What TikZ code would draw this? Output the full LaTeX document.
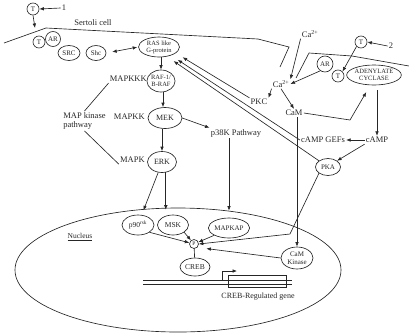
\documentclass[tikz,border=0pt]{standalone}
\usepackage{fontspec}
\setmainfont{Liberation Serif}
\usetikzlibrary{shapes.geometric,arrows.meta}
\begin{document}
\begin{tikzpicture}[x=1pt,y=-1pt,
  line width=0.65pt, draw=black!85, text=black!85,
  circ/.style={circle,draw,fill=white,inner sep=0pt,minimum size=12pt,font=\fontsize{7}{7}\selectfont},
  oval/.style={ellipse,draw,fill=white,inner sep=0pt,align=center,font=\fontsize{7.5}{7.5}\selectfont},
  lbl/.style={inner sep=1pt,font=\fontsize{8.5}{9.5}\selectfont,align=left},
  arr/.style={-{Latex[length=4.5pt,width=3.6pt]}},
  darr/.style={{Latex[length=4.5pt,width=3.6pt]}-{Latex[length=4.5pt,width=3.6pt]}},
]
\useasboundingbox (0,0) rectangle (409,333);

% nucleus
\node[ellipse,draw,inner sep=0pt,minimum width=326pt,minimum height=124pt] (nucleus) at (178,270) {};
\node[lbl,font=\fontsize{7.5}{8}\selectfont] (nuclbl) at (80,237) {\underline{Nucleus}};

% membrane
\draw (4,43) -- (46,28) -- (258,39) -- (289,47) -- (280,67);
\draw (296,78) -- (309,53) -- (352,56) -- (409,66);
\node[lbl] (sertoli) at (93,23) {Sertoli cell};

% testosterone 1
\node[circ] (T1) at (33,9) {T};
\node[lbl] (n1) at (64,8) {1};
\draw[arr] (n1.west) -- (T1.east);
\coordinate (mT) at (35,28);
\draw[arr] (T1.south) -- (mT);

% left receptor complex
\node[circ] (T2) at (39,42) {T};
\node[circ,minimum size=15pt] (AR1) at (53,39) {AR};
\node[oval,minimum width=22pt,minimum height=15pt,font=\fontsize{7}{7}\selectfont] (SRC) at (69,53) {SRC};
\node[oval,minimum width=20pt,minimum height=15pt,font=\fontsize{7}{7}\selectfont] (Shc) at (96,53) {Shc};
\node[oval,minimum width=41pt,minimum height=20pt,font=\fontsize{6.5}{7}\selectfont] (RAS) at (159,47) {RAS like\\G-protein};
\draw[darr,shorten <=6pt,shorten >=1pt] (Shc.east) -- (RAS.west);

% MAP kinase cascade
\node[oval,minimum width=25pt,minimum height=22pt,font=\fontsize{6.5}{7}\selectfont] (RAF) at (161,81) {RAF-1/\\B-RAF};
\node[oval,minimum width=34pt,minimum height=21pt,font=\fontsize{8}{8}\selectfont] (MEK) at (165,118) {MEK};
\node[oval,minimum width=29pt,minimum height=21pt,font=\fontsize{8}{8}\selectfont] (ERK) at (162,162) {ERK};
\node[lbl,anchor=east] (mapkkk) at (148,79) {MAPKKK};
\node[lbl,anchor=east] (mapkk) at (146,117) {MAPKK};
\node[lbl,anchor=east] (mapk) at (146,160) {MAPK};
\node[lbl,anchor=west] (mkp) at (62,121) {MAP kinase\\pathway};
\draw (mapkkk.south west) -- (mkp.north);
\draw (mkp.south) -- (mapk.south west);
\draw[arr] (RAS.south -| RAF.north) -- (RAF.north);
\draw[arr] (RAF.south -| 163,0) -- (MEK.north -| 163,0);
\draw[arr] (MEK.south -| ERK.north) -- (ERK.north);
\node[lbl] (p38) at (236,133) {p38K Pathway};
\draw[arr] (MEK.east) -- (p38.north west);

% nuclear targets
\node[oval,minimum width=32pt,minimum height=20pt] (p90) at (138,225) {p90\textsuperscript{rsk}};
\node[oval,minimum width=31pt,minimum height=20pt] (MSK) at (173,225) {MSK};
\node[oval,minimum width=36pt,minimum height=20pt,font=\fontsize{7}{7}\selectfont] (MAPKAP) at (229,228) {MAPKAP};
\node[circ,minimum size=9pt,font=\fontsize{5.5}{5.5}\selectfont] (P) at (194,244) {P};
\node[oval,minimum width=30pt,minimum height=18pt] (CREB) at (195,267) {CREB};
\node[oval,minimum width=32pt,minimum height=22pt,font=\fontsize{7}{7.5}\selectfont] (CaMK) at (297,258) {CaM\\Kinase};
\draw[arr,shorten >=5pt] (ERK.250) -- (p90.70);
\draw[arr,shorten >=5pt] (ERK.290) -- (ERK.290 |- MSK.north);
\draw[arr,shorten >=7pt] (p38.south -| MAPKAP.north) -- (MAPKAP.north);
\draw (P) -- (CREB);
\draw[arr] (p90.south east) -- (P);
\draw[arr] (MSK.south east) -- (P);
\draw[arr] (MAPKAP.south west) -- (P);

% gene
\coordinate (dnaA) at (143,280);
\coordinate (dnaB) at (292,280);
\coordinate (dnaC) at (143,284);
\coordinate (dnaD) at (292,284);
\draw (dnaA) -- (dnaB);
\draw (dnaC) -- (dnaD);
\node[draw,inner sep=0pt,minimum width=58pt,minimum height=12pt] (gene) at (257,281.5) {};
\coordinate (tss) at (222,280);
\coordinate (tssE) at (237,271);
\draw[arr] (tss) |- (tssE);
\node[lbl,font=\fontsize{8}{9}\selectfont] (genelbl) at (258,297) {CREB-Regulated gene};

% right side: calcium and cAMP
\node[lbl] (caout) at (310,34) {Ca\textsuperscript{2+}};
\node[lbl] (cain) at (281,84) {Ca\textsuperscript{2+}};
\draw[arr] (caout.south west) -- (cain.north east);
\node[circ] (T3) at (361,42) {T};
\node[lbl] (n2) at (391,46) {2};
\draw[arr] (n2.west) -- (T3.east);
\node[circ,minimum size=16pt] (AR2) at (325,64) {AR};
\node[circ] (T4) at (338,76) {T};
\draw[arr] (T3.south west) -- (T4.north east);
\node[oval,minimum width=52pt,minimum height=20pt,font=\fontsize{6.5}{7}\selectfont] (AC) at (374,75) {ADENYLATE\\CYCLASE};
\draw[arr] (AR2.235) -- (cain.east);
\node[lbl] (PKC) at (259,102) {PKC};
\node[lbl] (CaM) at (294,113) {CaM};
\draw[arr] (cain.south west) -- (PKC.north east);
\draw[arr] (cain.south) -- (CaM.north);
\node[lbl] (cAMP) at (377,140) {cAMP};
\node[lbl] (GEF) at (323,140) {cAMP GEFs};
\node[oval,minimum width=25pt,minimum height=17pt,font=\fontsize{7}{7}\selectfont] (PKA) at (328,167) {PKA};
\coordinate (bend) at (350,120);
\draw[arr,shorten >=8pt] (CaM.east) -- (bend) -- (AC.250);
\draw[arr,shorten <=5pt] (cAMP.north |- AC.south) -- (cAMP.north);
\draw[arr] (cAMP.west) -- (GEF.east);
\draw[arr] (cAMP.south west) -- (PKA.north east);
\draw[arr] (CaMK.north |- CaM.south) -- (CaMK.north);
\coordinate (pkabend) at (290,234);
\draw[arr] (PKA.south west) -- (pkabend) -- (P.east);
\draw[arr,shorten >=9pt] (CaMK.west) -- (P.south east);

% parallel activation lines to RAS
\draw[arr,shorten >=8pt] (PKC.north west) -- (RAS.-20);
\draw[arr,shorten >=8pt] (GEF.west) -- (RAS.-35);
\draw[arr,shorten >=8pt] (PKA.north west) -- (RAS.-50);
\end{tikzpicture}
\end{document}
